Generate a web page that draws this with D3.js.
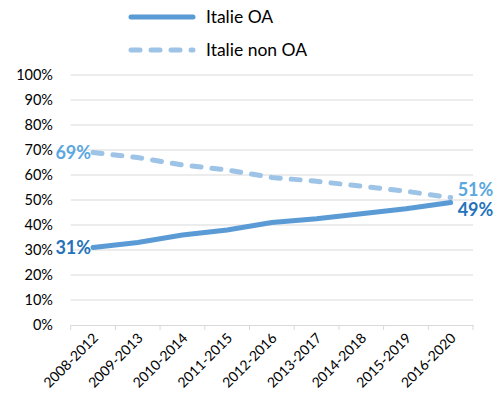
<!DOCTYPE html>
<html><head><meta charset="utf-8">
<script src="https://cdn.jsdelivr.net/npm/d3@7"></script>
<style>body{margin:0;background:#fff;}svg{display:block;font-family:Lato,"Liberation Sans",sans-serif;}</style>
</head><body>
<svg id="c" width="500" height="405"></svg>
<script>
const categories = ["2008-2012","2009-2013","2010-2014","2011-2015","2012-2016","2013-2017","2014-2018","2015-2019","2016-2020"];
const oaValues = [31, 33, 36, 38, 41, 42.5, 44.5, 46.5, 49];
const nonOaValues = [69, 67, 64, 62, 59, 57.5, 55.5, 53.5, 51];
const yTicks = [0,10,20,30,40,50,60,70,80,90,100];
const seriesNames = ["Italie OA", "Italie non OA"];

const svg = d3.select("#c");
const x = d3.scaleBand().domain(categories).range([70.7, 473]);
const y = d3.scaleLinear().domain([0, 100]).range([325, 75]);
const cx = d => x(d) + x.bandwidth()/2;

// gridlines
svg.append("g").selectAll("line").data(yTicks.filter(t => t > 0)).join("line")
  .attr("x1", 70.7).attr("x2", 473).attr("y1", d => y(d)).attr("y2", d => y(d))
  .attr("stroke", "#d9d9d9").attr("stroke-width", 1);

// y labels
svg.append("g").selectAll("text").data(yTicks).join("text")
  .attr("x", 53).attr("y", d => y(d)).attr("dy", "0.35em")
  .attr("text-anchor", "end").attr("font-size", 14.5).attr("fill", "#000")
  .text(d => d + "%");

// x axis
const xAxis = d3.axisBottom(x).tickSize(0).tickFormat("");
const gx = svg.append("g").attr("transform", "translate(0,325)").call(xAxis);
gx.select(".domain").attr("stroke", "#d9d9d9");
const bounds = categories.map(c => x(c)).concat([473]);
svg.append("g").selectAll("line").data(bounds).join("line")
  .attr("x1", d => d).attr("x2", d => d).attr("y1", 325).attr("y2", 330)
  .attr("stroke", "#d9d9d9");
svg.append("g").selectAll("text").data(categories).join("text")
  .attr("transform", d => `translate(${cx(d)+6},${339}) rotate(-45)`)
  .attr("text-anchor", "end").attr("font-size", 14).attr("fill", "#000")
  .text(d => d);

const line = d3.line().x((d, i) => cx(categories[i])).y(d => y(d));

svg.append("path").datum(nonOaValues).attr("d", line)
  .attr("fill", "none").attr("stroke", "#9dc3e6").attr("stroke-width", 5)
  .attr("stroke-linecap", "round").attr("stroke-dasharray", "9 11");
svg.append("path").datum(oaValues).attr("d", line)
  .attr("fill", "none").attr("stroke", "#5b9bd5").attr("stroke-width", 5)
  .attr("stroke-linecap", "round");

// data labels
const first = categories[0], last = categories[categories.length-1];
const lab = (xx, yy, anchor, color, txt) => svg.append("text").attr("x", xx).attr("y", yy).attr("dy", "0.35em")
  .attr("text-anchor", anchor).attr("font-size", 18).attr("font-weight", "bold").attr("fill", color).text(txt);
lab(cx(first) - 2, y(nonOaValues[0]), "end", "#5ba7e0", nonOaValues[0] + "%");
lab(cx(first) - 2, y(oaValues[0]), "end", "#2473ba", oaValues[0] + "%");
lab(cx(last) + 7, y(nonOaValues[8]) - 8, "start", "#5ba7e0", nonOaValues[8] + "%");
lab(cx(last) + 7, y(oaValues[8]) + 7, "start", "#2473ba", oaValues[8] + "%");

// legend
const leg = svg.append("g");
leg.append("line").attr("x1", 131).attr("x2", 193).attr("y1", 17).attr("y2", 17)
  .attr("stroke", "#5b9bd5").attr("stroke-width", 5).attr("stroke-linecap", "round");
leg.append("line").attr("x1", 131).attr("x2", 193).attr("y1", 50).attr("y2", 50)
  .attr("stroke", "#9dc3e6").attr("stroke-width", 5).attr("stroke-linecap", "round").attr("stroke-dasharray", "9 11");
leg.selectAll("text").data(seriesNames).join("text")
  .attr("x", 206).attr("y", (d, i) => 17 + i*33).attr("dy", "0.35em")
  .attr("font-size", 17.5).attr("fill", "#000").text(d => d);
</script>
</body></html>
